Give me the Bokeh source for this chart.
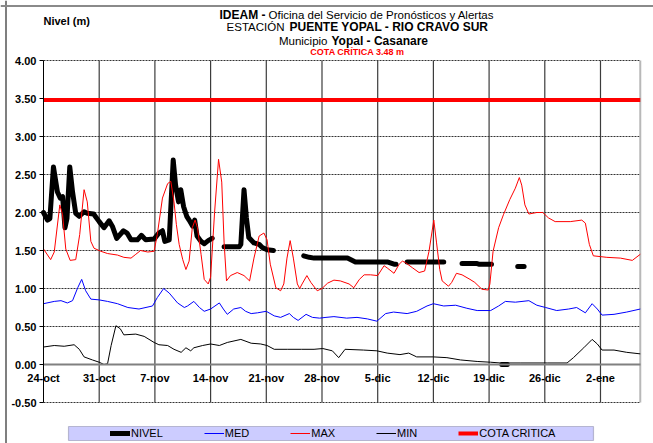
import math
from bokeh.plotting import figure
from bokeh.models import (Range1d, LinearAxis, FixedTicker, NumeralTickFormatter,
                          Label, Legend, LegendItem, BoxAnnotation, Span)
from bokeh.embed import file_html
from bokeh.resources import INLINE

NaN = float("nan")

# ---------------- data ----------------
tick_days = [0, 7, 14, 21, 28, 35, 42, 49, 56, 63, 70]
tick_labels = ["24-oct", "31-oct", "7-nov", "14-nov", "21-nov", "28-nov",
               "5-dic", "12-dic", "19-dic", "26-dic", "2-ene"]
y_ticks = [-0.5, 0.0, 0.5, 1.0, 1.5, 2.0, 2.5, 3.0, 3.5, 4.0]
day_end = 75
cota = 3.48

nivel_days = [0, 0.5, 0.8, 1.25, 1.75, 2.1, 2.4, 2.7, 2.95, 3.3, 3.65, 4.05, 4.5, 5.1, 5.5,
              6.3, 7.0, 7.6, 8.25, 8.65, 9.2, 10.05, 10.5, 11.0, 11.8, 12.3, 12.85, 13.9,
              14.5, 14.95, 15.25, 15.8, 16.3, 16.6, 16.97, 17.25, 17.6, 18.0, 18.3, 18.75,
              19.0, 19.3, 19.8, 20.2, 20.7, 21.2,
              21.9,
              22.7, 24.6, 24.8, 25.2, 25.5, 25.8, 26.45, 27.1, 27.5, 28.1, 28.9,
              30.8,
              32.7, 33.4, 34.0, 38.2, 39.2, 43.2, 44.05, 44.3,
              45.0,
              45.7, 50.3,
              51.5,
              52.6, 54.4, 54.7, 56.3,
              57.0,
              57.6, 58.3,
              59.0,
              59.6, 60.4]
nivel = [2.00, 1.90, 1.92, 2.60, 2.27, 2.19, 2.21, 1.80, 1.92, 2.60, 2.27, 1.99, 1.95, 2.01, 1.99,
         1.98, 1.88, 1.80, 1.89, 1.82, 1.66, 1.76, 1.73, 1.64, 1.64, 1.70, 1.64, 1.65,
         1.73, 1.76, 1.62, 1.64, 2.69, 2.36, 2.14, 2.30, 2.08, 1.95, 1.90, 1.82,
         1.90, 1.69, 1.62, 1.59, 1.63, 1.66,
         NaN,
         1.55, 1.55, 1.58, 2.30, 1.93, 1.67, 1.60, 1.58, 1.54, 1.51, 1.50,
         NaN,
         1.43, 1.41, 1.40, 1.40, 1.35, 1.35, 1.32, 1.32,
         NaN,
         1.35, 1.35,
         NaN,
         1.33, 1.33, 1.32, 1.32,
         NaN,
         0.00, 0.00,
         NaN,
         1.29, 1.29]

max_days = [0.0, 0.9, 1.35, 2.05, 2.4, 2.8, 3.35, 4.05, 4.55, 5.1, 5.5, 5.95, 6.35, 7.2, 8.05,
            9.3, 10.1, 11.0, 11.6, 12.2, 13.1, 13.9, 14.3, 14.95, 15.6, 16.0, 16.4, 16.7,
            17.05, 17.5, 17.9, 18.3, 18.7, 19.05, 19.35, 19.8, 20.2, 20.7, 21.0, 21.5, 22.0,
            22.4, 22.7, 23.0, 23.5, 24.35, 25.2, 25.9, 26.45, 27.1, 27.7, 28.1, 28.5, 29.2,
            29.8, 30.2, 30.6, 31.0, 31.4, 31.9, 32.2, 32.5, 33.1, 33.6, 34.4, 35.0, 35.7,
            36.5, 37.3, 38.4, 39.0, 39.7, 40.3, 41.1, 42.0, 42.8, 43.2, 44.05, 44.7, 45.1,
            45.5, 46.4, 47.2, 47.9, 48.45, 49.05, 49.4, 49.8, 50.1, 50.9, 51.3, 51.9, 52.6,
            53.6, 54.2, 55.1, 55.9, 56.1, 56.5, 57.2, 57.8, 58.6, 59.3, 59.8, 60.1, 60.5,
            61.0, 62.0, 62.75, 63.45, 64.3, 66.2, 67.65, 68.1, 68.6, 69.1, 70.8, 72.5,
            74.0, 75.0]
max_vals = [1.52, 1.38, 1.48, 2.10, 1.97, 1.52, 1.37, 1.38, 1.71, 2.30, 2.14, 1.62, 1.53, 1.49,
            1.46, 1.44, 1.41, 1.40, 1.45, 1.50, 1.48, 1.49, 1.71, 2.19, 2.38, 2.41, 2.14, 1.84,
            1.58, 1.38, 1.25, 1.36, 1.80, 1.90, 1.80, 1.45, 1.12, 1.06, 1.15, 2.00, 2.70,
            2.40, 1.60, 1.10, 1.17, 1.21, 1.17, 1.10, 1.40, 1.69, 1.73, 1.64, 1.32, 1.01,
            0.97, 1.06, 1.40, 1.63, 1.40, 1.06, 1.00, 1.06, 1.17, 1.08, 0.97, 1.00, 1.07,
            1.11, 1.10, 1.06, 1.01, 1.12, 1.18, 1.18, 1.17, 1.30, 1.27, 1.20, 1.32, 1.36,
            1.34, 1.27, 1.21, 1.23, 1.49, 1.90, 1.60, 1.25, 1.10, 1.03, 1.08, 1.20, 1.18,
            1.12, 1.08, 0.99, 0.98, 1.06, 1.49, 1.80, 1.97, 2.17, 2.32, 2.46, 2.36, 2.10,
            1.98, 2.00, 2.00, 1.93, 1.88, 1.88, 1.90, 1.86, 1.58, 1.43, 1.41, 1.40,
            1.37, 1.45]

med_days = [0, 1.35, 2.2, 3.0, 3.65, 4.3, 4.8, 5.3, 5.95, 7.0, 8.05, 9.3, 10.6, 12.0, 13.7,
            14.3, 15.1, 15.8, 16.85, 17.7, 18.1, 18.9, 19.6, 20.2, 21.0, 22.1, 22.6, 23.1,
            23.9, 24.8, 25.4, 26.1, 26.9, 28.0, 29.0, 29.8, 30.9, 31.4, 32.0, 33.0, 33.8,
            34.7, 35.5, 36.5, 38.1, 39.4, 40.7, 41.9, 43.0, 44.0, 45.7, 46.9, 48.2, 49.0,
            50.3, 51.8, 53.2, 54.5, 56.2, 57.2, 58.05, 59.3, 61.0, 62.0, 63.1, 64.5, 66.0,
            67.0, 68.1, 68.95, 69.6, 70.2, 71.7, 73.3, 75.0]
med_vals = [0.80, 0.83, 0.84, 0.81, 0.84, 1.01, 1.12, 0.97, 0.86, 0.85, 0.83, 0.80, 0.75, 0.73,
            0.77, 0.88, 1.00, 0.94, 0.81, 0.75, 0.77, 0.83, 0.75, 0.70, 0.73, 0.81, 0.73,
            0.66, 0.73, 0.75, 0.70, 0.67, 0.68, 0.70, 0.64, 0.62, 0.67, 0.62, 0.58, 0.66,
            0.62, 0.61, 0.62, 0.63, 0.61, 0.62, 0.60, 0.57, 0.67, 0.69, 0.67, 0.70, 0.77,
            0.80, 0.77, 0.78, 0.74, 0.71, 0.71, 0.77, 0.83, 0.82, 0.84, 0.78, 0.75, 0.71,
            0.73, 0.75, 0.68, 0.80, 0.73, 0.65, 0.66, 0.69, 0.73]

min_days = [0, 1.35, 2.6, 3.85, 4.5, 5.1, 6.15, 7.0, 7.6, 8.05, 8.5, 9.1, 9.65, 10.1, 11.6,
            12.65, 13.9, 14.5, 15.6, 16.4, 17.3, 17.9, 18.5, 18.9, 20.0, 21.0, 22.1, 23.1,
            24.8, 26.1, 27.3, 28.1, 29.0, 30.7, 32.4, 34.0, 35.1, 36.3, 37.1, 37.9, 40.2,
            41.9, 43.2, 44.8, 45.9, 46.9, 49.0, 50.7, 52.4, 54.5, 56.2, 57.4, 59.9, 63.3,
            65.8, 66.6, 67.9, 68.95, 69.6, 70.2, 71.7, 73.3, 75.0]
min_vals = [0.23, 0.25, 0.24, 0.26, 0.20, 0.10, 0.06, 0.03, 0.00, 0.01, 0.25, 0.51, 0.47, 0.39,
            0.40, 0.37, 0.29, 0.26, 0.25, 0.20, 0.16, 0.22, 0.18, 0.22, 0.25, 0.27, 0.25,
            0.29, 0.33, 0.28, 0.27, 0.25, 0.20, 0.20, 0.20, 0.20, 0.21, 0.18, 0.09, 0.20,
            0.19, 0.18, 0.15, 0.13, 0.15, 0.10, 0.10, 0.09, 0.06, 0.04, 0.03, 0.02, 0.02,
            0.02, 0.02, 0.09, 0.22, 0.33, 0.27, 0.19, 0.19, 0.16, 0.14]

# ---------------- layout (page pixels -> data) ----------------
W, H = 653, 443
FIG_L, FIG_T = 0, 0
X0, XS = 43.0, 7.957      # page x of day 0, px per day
Y0, YS = 364.0, 76.0      # page y of 0 m, px per metre


def dx(px):
    return (px - X0) / XS


def dy(py):
    return (Y0 - py) / YS


FONT = "Liberation Sans"

p = figure(width=W, height=H, output_backend="svg", toolbar_location=None,
           x_range=Range1d(dx(FIG_L), dx(FIG_L + W)),
           y_range=Range1d(dy(FIG_T + H), dy(FIG_T)),
           x_axis_type=None, y_axis_type=None, min_border=0,
           outline_line_color=None, background_fill_color="white",
           border_fill_color="white")

y_lo, y_hi = y_ticks[0], y_ticks[-1]

# grid
hg = [t for t in y_ticks if t != 0]
p.segment(x0=[0] * len(hg), y0=hg, x1=[day_end] * len(hg), y1=hg,
          line_color="#333333", line_width=1, line_dash="2 1")
vg = tick_days[1:]
p.segment(x0=vg, y0=[y_lo] * len(vg), x1=vg, y1=[y_hi] * len(vg),
          line_color="#3c3c3c", line_width=1.2)
p.segment(x0=[day_end], y0=[y_lo], x1=[day_end], y1=[y_hi],
          line_color="#b8b8b8", line_width=2)

# series (Excel order)
r_nivel = p.line(nivel_days, nivel, line_color="black", line_width=5,
                 line_join="round", line_cap="round")
r_med = p.line(med_days, med_vals, line_color="#0000FF", line_width=1)
r_max = p.line(max_days, max_vals, line_color="#FF0000", line_width=1)
r_min = p.line(min_days, min_vals, line_color="black", line_width=1)
r_cota = p.line([0, day_end], [cota, cota], line_color="#FF0000", line_width=4)

# axes
yaxis = LinearAxis(fixed_location=0, bounds=(y_lo, y_hi),
                   ticker=FixedTicker(ticks=y_ticks),
                   formatter=NumeralTickFormatter(format="0.00"),
                   axis_line_color="black", axis_line_width=1,
                   major_tick_out=4, major_tick_in=0, minor_tick_out=0, minor_tick_in=0,
                   major_tick_line_color="black",
                   major_label_standoff=3,
                   major_label_text_font=FONT, major_label_text_font_size="11px",
                   major_label_text_font_style="bold", major_label_text_color="black")
p.add_layout(yaxis, "left")

xaxis = LinearAxis(fixed_location=0, bounds=(0, day_end),
                   ticker=FixedTicker(ticks=tick_days),
                   major_label_overrides={d: lab for d, lab in zip(tick_days, tick_labels)},
                   axis_line_color="#808080", axis_line_width=2,
                   major_tick_out=0, major_tick_in=0, minor_tick_out=0, minor_tick_in=0,
                   major_label_standoff=7,
                   major_label_text_font=FONT, major_label_text_font_size="11px",
                   major_label_text_font_style="bold", major_label_text_color="black")
p.add_layout(xaxis, "below")

# outer chart border (left / top)
p.add_layout(Span(location=dx(5.5), dimension="height", line_color="#555555", line_width=1.5))
p.add_layout(Span(location=dy(5.5), dimension="width", line_color="#8a8a8a", line_width=2))


def lab(text, px, py, align="left", bold=False, size="11px", color="black"):
    p.add_layout(Label(x=dx(px), y=dy(py), text=text, text_align=align,
                       text_baseline="middle", text_font=FONT, text_font_size=size,
                       text_font_style="bold" if bold else "normal", text_color=color))


lab("Nivel (m)", 43, 20, bold=True)
lab("IDEAM -", 265, 14, align="right", bold=True, size="12px")
lab("Oficina del Servicio de Pronósticos y Alertas", 268, 14, size="11.5px")
lab("ESTACIÓN", 284, 26.5, align="right", size="11.5px")
lab("PUENTE YOPAL  - RIO CRAVO SUR", 289, 26.5, bold=True, size="12px")
lab("Municipio", 327, 40, align="right", size="11.5px")
lab("Yopal - Casanare", 331, 40, bold=True, size="12px")
lab("COTA CRÍTICA 3.48 m", 357, 51.5, align="center", bold=True, size="9px", color="#FF0000")

# legend box + legend
p.add_layout(BoxAnnotation(left=dx(68), right=dx(593), top=dy(426), bottom=dy(440),
                           fill_color="#CCCCFF", fill_alpha=1,
                           line_color="#444466", line_width=1.2))
legend = Legend(items=[LegendItem(label="NIVEL", renderers=[r_nivel]),
                       LegendItem(label="MED", renderers=[r_med]),
                       LegendItem(label="MAX", renderers=[r_max]),
                       LegendItem(label="MIN", renderers=[r_min]),
                       LegendItem(label="COTA CRITICA", renderers=[r_cota])],
                orientation="horizontal", location=(110, H - 439),
                padding=0, margin=0, spacing=41, glyph_width=20, glyph_height=12,
                label_height=12, label_standoff=1,
                background_fill_alpha=0, border_line_color=None,
                label_text_font=FONT, label_text_font_size="11px",
                label_text_color="black")
p.add_layout(legend)

open("out.html", "w").write(file_html(p, INLINE))
